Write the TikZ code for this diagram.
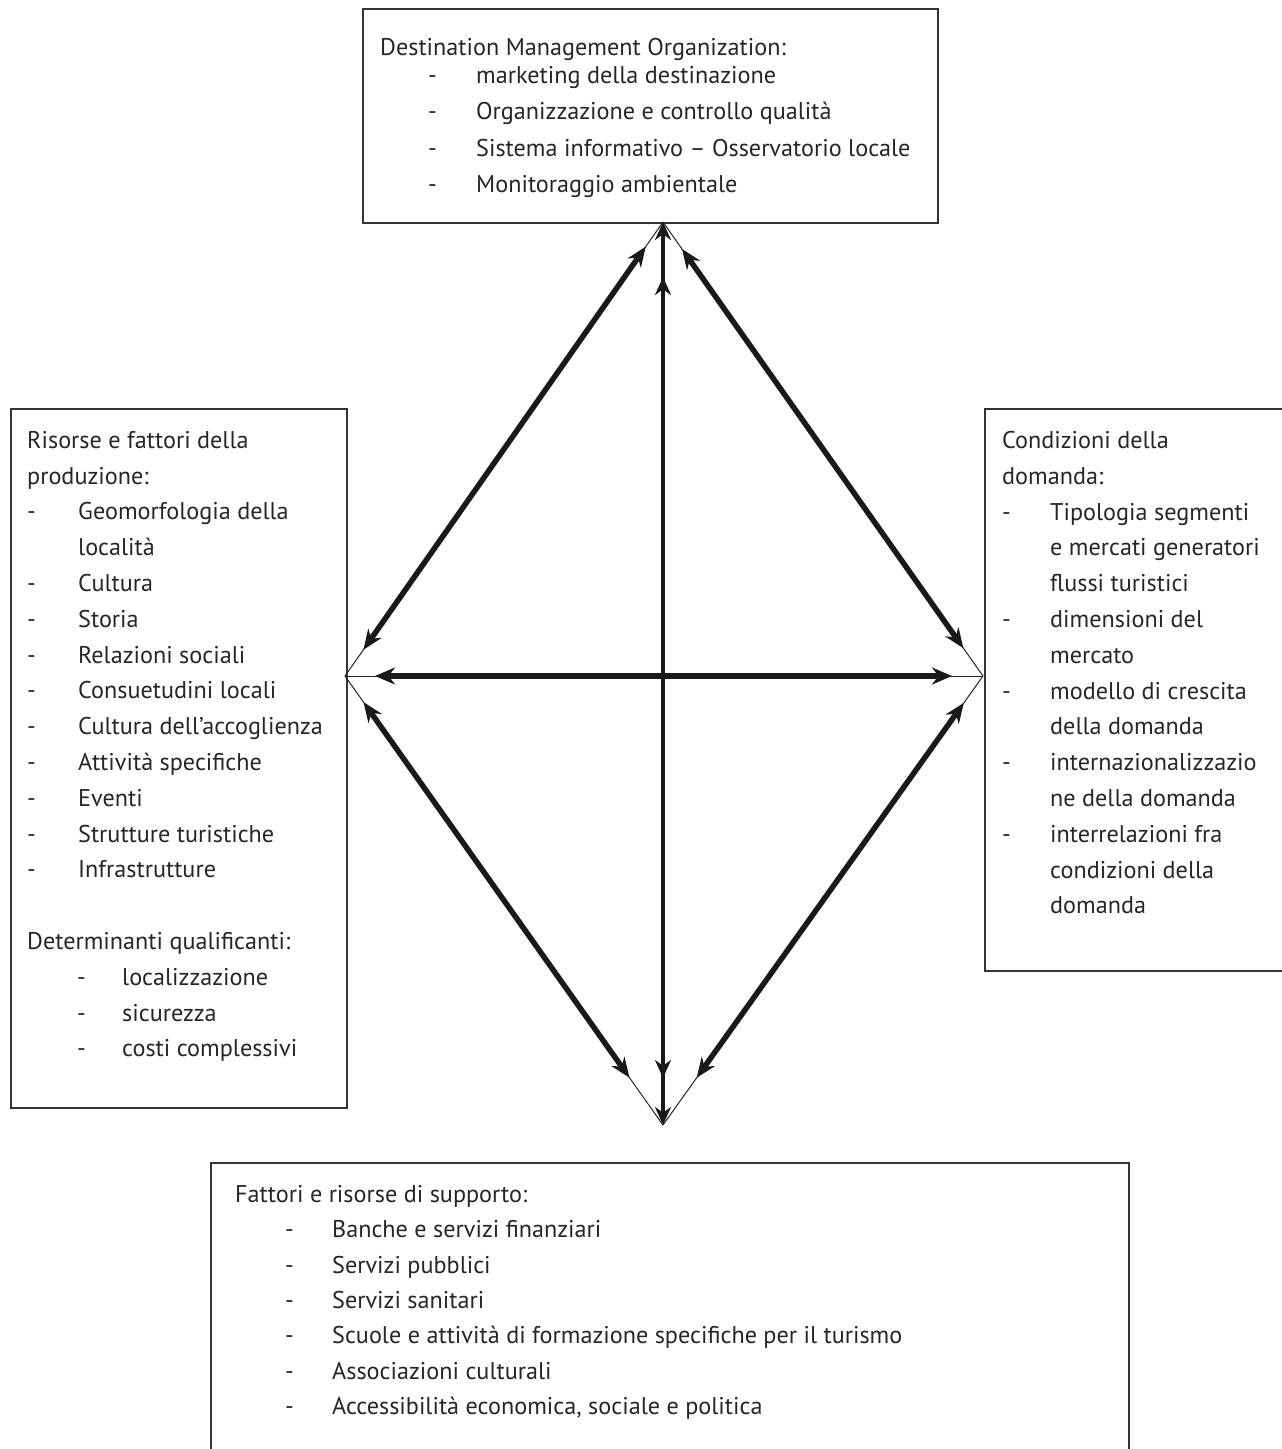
\documentclass[tikz,border=0pt]{standalone}
\usepackage{fontspec}
\setmainfont{PT Sans}
\usetikzlibrary{arrows.meta,calc}
\newcommand\dashitem[2][48pt]{\makebox[#1][l]{-}#2}
\begin{document}
\begin{tikzpicture}[x=1pt,y=-1pt,
  box/.style={draw=black!80,line width=2pt,rectangle,inner sep=0pt,anchor=north west},
  txt/.style={anchor=north west,inner sep=0pt,align=left,text=black!85,
    font=\fontsize{24.2}{35.8}\selectfont},
  thinln/.style={line width=1pt,draw=black!85},
  arr/.style={line width=5.5pt,draw=black!90,{Stealth[length=20pt,width=16pt]}-{Stealth[length=20pt,width=16pt]}},
  harr/.style={line width=6pt,draw=black!90,{Stealth[length=20pt,width=17pt]}-{Stealth[length=20pt,width=17pt]}},
  varr/.style={line width=3.5pt,draw=black!90,{Stealth[length=18pt,width=16pt]}-{Stealth[length=18pt,width=16pt]}}
]
\path[use as bounding box, clip] (0,0) rectangle (1282,1449);
\fill[white] (0,0) rectangle (1282,1449);

% boxes
\node[box, minimum width=575pt, minimum height=214pt] (dmo) at (362,8) {};
\node[box, minimum width=336pt, minimum height=699pt] (res) at (10,408) {};
\node[box, minimum width=320pt, minimum height=562pt] (dom) at (984,408) {};
\node[box, minimum width=918pt, minimum height=320pt] (sup) at (210,1162) {};

% texts
\node[txt] (dmotxt) at (380,38) {Destination Management Organization:\\[-8pt]
\hspace*{48pt}\dashitem{marketing della destinazione}\\[0.6pt]
\hspace*{48pt}\dashitem{Organizzazione e controllo qualità}\\[0.6pt]
\hspace*{48pt}\dashitem{Sistema informativo – Osservatorio locale}\\[0.6pt]
\hspace*{48pt}\dashitem{Monitoraggio ambientale}};

\node[txt] (restxt) at (27,431) {Risorse e fattori della\\
produzione:\\
\dashitem[51pt]{Geomorfologia della}\\
\hspace*{51pt}località\\
\dashitem[51pt]{Cultura}\\
\dashitem[51pt]{Storia}\\
\dashitem[51pt]{Relazioni sociali}\\
\dashitem[51pt]{Consuetudini locali}\\
\dashitem[51pt]{Cultura dell’accoglienza}\\
\dashitem[51pt]{Attività specifiche}\\
\dashitem[51pt]{Eventi}\\
\dashitem[51pt]{Strutture turistiche}\\
\dashitem[51pt]{Infrastrutture}\\[35.8pt]
Determinanti qualificanti:\\
\hspace*{50pt}\dashitem[45pt]{localizzazione}\\
\hspace*{50pt}\dashitem[45pt]{sicurezza}\\
\hspace*{50pt}\dashitem[45pt]{costi complessivi}};

\node[txt] (domtxt) at (1002,431) {Condizioni della\\
domanda:\\
\dashitem{Tipologia segmenti}\\
\hspace*{48pt}e mercati generatori\\
\hspace*{48pt}flussi turistici\\
\dashitem{dimensioni del}\\
\hspace*{48pt}mercato\\
\dashitem{modello di crescita}\\
\hspace*{48pt}della domanda\\
\dashitem{internazionalizzazio}\\
\hspace*{48pt}ne della domanda\\
\dashitem{interrelazioni fra}\\
\hspace*{48pt}condizioni della\\
\hspace*{48pt}domanda};

\node[txt, font=\fontsize{24.2}{35.4}\selectfont] (suptxt) at (235,1185) {Fattori e risorse di supporto:\\
\hspace*{50pt}\dashitem[47pt]{Banche e servizi finanziari}\\
\hspace*{50pt}\dashitem[47pt]{Servizi pubblici}\\
\hspace*{50pt}\dashitem[47pt]{Servizi sanitari}\\
\hspace*{50pt}\dashitem[47pt]{Scuole e attività di formazione specifiche per il turismo}\\
\hspace*{50pt}\dashitem[47pt]{Associazioni culturali}\\
\hspace*{50pt}\dashitem[47pt]{Accessibilità economica, sociale e politica}};

% diamond vertices
\coordinate (T) at (663,222);
\coordinate (L) at (345,676);
\coordinate (R) at (983,676);
\coordinate (B) at (663,1125);

% thin connectors vertex to vertex
\draw[thinln] (T) -- (L);
\draw[thinln] (T) -- (R);
\draw[thinln] (B) -- (L);
\draw[thinln] (B) -- (R);
\draw[thinln] (L) -- (R);

% thick double arrows
\draw[arr] ($(T)!30pt!(L)$) -- ($(L)!32pt!(T)$);
\draw[arr] ($(T)!33pt!(R)$) -- ($(R)!34pt!(T)$);
\draw[arr] ($(L)!32pt!(B)$) -- ($(B)!58pt!(L)$);
\draw[arr] ($(R)!33pt!(B)$) -- ($(B)!58pt!(R)$);
\draw[harr] ($(L)!30pt!(R)$) -- ($(R)!31pt!(L)$);
\draw[varr] (T) -- (B);
\draw[varr] ($(T)!55pt!(B)$) -- ($(B)!47pt!(T)$);
\end{tikzpicture}
\end{document}
